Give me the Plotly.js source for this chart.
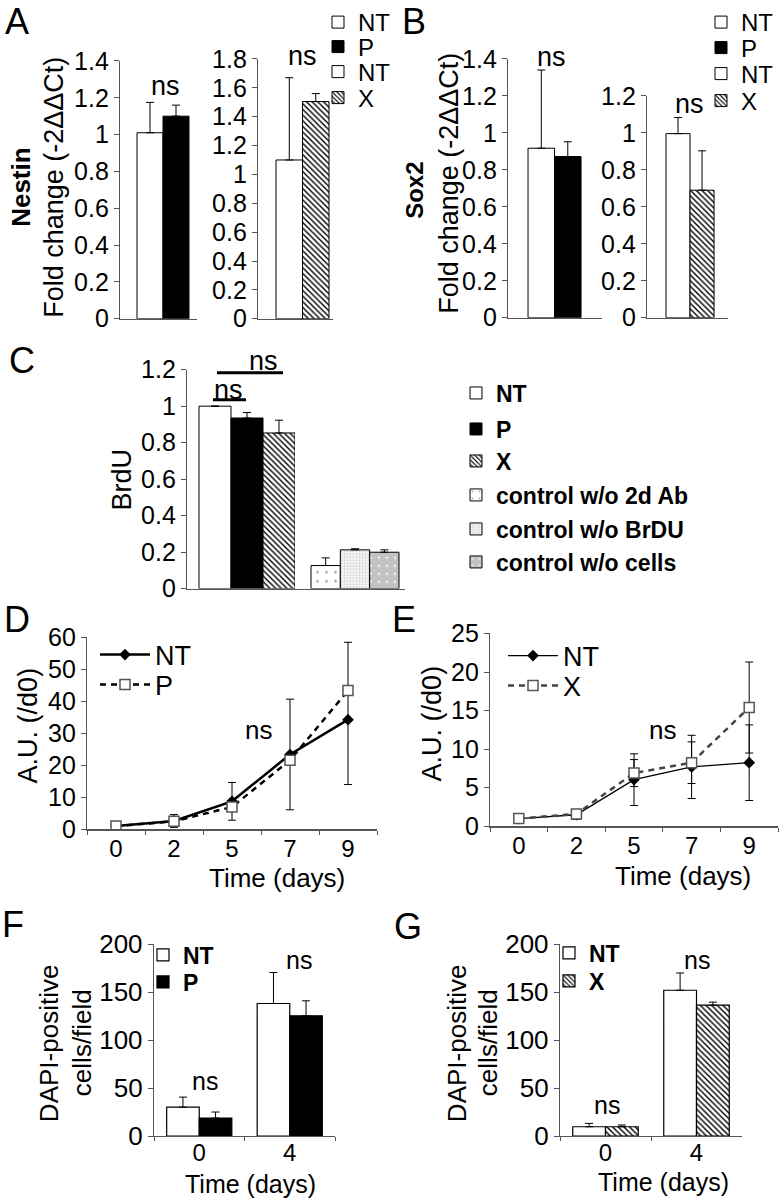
<!DOCTYPE html>
<html>
<head>
<meta charset="utf-8">
<script src="https://cdn.plot.ly/plotly-3.0.1.min.js"></script>
<style>
html,body{margin:0;padding:0;background:#fff;}
#chart{width:784px;height:1200px;}
</style>
</head>
<body>
<div id="chart"></div>
<script>
// ---------------- DATA ----------------
// Panel A (Nestin)
const nestinCatsP = ['NT', 'P'];
const nestinValsP = [1.01, 1.10];
const nestinErrP = [0.165, 0.06];
const nestinCatsX = ['NT', 'X'];
const nestinValsX = [1.10, 1.505];
const nestinErrX = [0.57, 0.055];
// Panel B (Sox2)
const sox2CatsP = ['NT', 'P'];
const sox2ValsP = [0.917, 0.872];
const sox2ErrP = [0.423, 0.08];
const sox2CatsX = ['NT', 'X'];
const sox2ValsX = [0.996, 0.69];
const sox2ErrX = [0.087, 0.213];
// Panel C (BrdU)
const brduCats = ['NT', 'P', 'X'];
const brduVals = [1.0, 0.935, 0.853];
const brduErr = [0, 0.03, 0.07];
const ctrlCats = ['control w/o 2d Ab', 'control w/o BrDU', 'control w/o cells'];
const ctrlVals = [0.126, 0.212, 0.199];
const ctrlErr = [0.042, 0.006, 0.013];
// Panel D / E (growth)
const days = ['0', '2', '5', '7', '9'];
const dNT = [1, 2.6, 8.75, 23.4, 34.3];
const dNTErrPlus = [0, 2, 5.9, 17.3, 24.2];
const dNTErrMinus = [0, 2, 5.9, 17.3, 20.3];
const dP = [1, 2.5, 7.0, 21.6, 43.4];
const eNT = [1.0, 1.5, 6.05, 7.7, 8.25];
const eNTErr = [0.6, 0.6, 3.35, 4.1, 4.9];
const eX = [1.0, 1.6, 6.9, 8.25, 15.4];
const eXErr = [0.4, 0.5, 1.75, 2.7, 5.9];
// Panel F / G (DAPI)
const dapiDays = ['0', '4'];
const fNT = [30.2, 138.2];
const fNTErr = [10.4, 32.3];
const fP = [18.75, 125.3];
const fPErr = [6.3, 15.7];
const gNT = [9.7, 152];
const gNTErr = [3.5, 18];
const gX = [9.7, 136.5];
const gXErr = [1.8, 3.1];

// ---------------- STYLE ----------------
const FONT = 'Liberation Sans, Arial, Helvetica, sans-serif';
const AX = '#555';
const W = 784, H = 1200;
const PX = v => v / W;
const PY = v => 1 - v / H;

const barStyle = {
  'NT': {color: '#ffffff'},
  'P': {color: '#000000'},
  'X': {color: '#ffffff', pattern: {shape: '\\', fgcolor: '#000', bgcolor: '#fff', size: 4, solidity: 0.35}},
  'control w/o 2d Ab': {color: '#ffffff', pattern: {shape: '.', fgcolor: '#9a9a9a', bgcolor: '#ffffff', size: 9, solidity: 0.06}},
  'control w/o BrDU': {color: '#eeeeee', pattern: {shape: '.', fgcolor: '#c8c8c8', bgcolor: '#f4f4f4', size: 3, solidity: 0.25}},
  'control w/o cells': {color: '#c4c4c4', pattern: {shape: '.', fgcolor: '#f2f2f2', bgcolor: '#c2c2c2', size: 8, solidity: 0.08}}
};

const layout = {
  width: W, height: H, margin: {l: 0, r: 0, t: 0, b: 0},
  paper_bgcolor: '#fff', plot_bgcolor: 'rgba(0,0,0,0)',
  barmode: 'overlay', bargap: 0, showlegend: true,
  font: {family: FONT, color: '#000'},
  annotations: [], shapes: []
};

// one small legend per entry, so each entry sits where the original put it
let legendCount = 0;
function newLegend(x, yc, fs, bold, extra) {
  legendCount += 1;
  const id = legendCount === 1 ? 'legend' : 'legend' + legendCount;
  layout[id] = Object.assign({x: PX(x), y: PY(yc), xanchor: 'left', yanchor: 'middle',
    bgcolor: 'rgba(0,0,0,0)', borderwidth: 0, tracegroupgap: 0,
    font: {family: FONT, size: fs, color: '#000', weight: bold ? 'bold' : 'normal'}}, extra || {});
  return id;
}

function errStyle(arr) {
  return {type: 'data', array: arr, arrayminus: arr.map(() => 0), symmetric: false,
          color: '#000', thickness: 1, width: 4};
}

function barTraces(cats, vals, errs, xa, ya, legX, legYs, fs, bold) {
  return cats.map((c, i) => {
    const st = barStyle[c];
    const marker = {color: st.color, line: {color: '#000', width: 1}};
    if (st.pattern) marker.pattern = st.pattern;
    return {
      type: 'bar', name: c, x: [c], y: [vals[i]],
      error_y: errStyle([errs[i]]),
      marker: marker, xaxis: xa, yaxis: ya, legend: newLegend(legX, legYs[i], fs, bold),
      showlegend: true, hoverinfo: 'skip'
    };
  });
}

function groupedBar(name, cats, vals, errs, xa, ya, offset, legX, legY) {
  const st = barStyle[name];
  const marker = {color: st.color, line: {color: '#000', width: 1.2}};
  if (st.pattern) marker.pattern = st.pattern;
  return {
    type: 'bar', name: name, x: cats, y: vals, width: 0.36, offset: offset,
    error_y: errStyle(errs), marker: marker, xaxis: xa, yaxis: ya,
    legend: newLegend(legX, legY, 23, true), hoverinfo: 'skip'
  };
}

const traces = [];
traces.push(...barTraces(nestinCatsP, nestinValsP, nestinErrP, 'x', 'y', 318, [22, 47], 24, false));
traces.push(...barTraces(nestinCatsX, nestinValsX, nestinErrX, 'x2', 'y2', 318, [72, 98], 24, false));
traces.push(...barTraces(sox2CatsP, sox2ValsP, sox2ErrP, 'x3', 'y3', 701, [22, 48], 24, false));
traces.push(...barTraces(sox2CatsX, sox2ValsX, sox2ErrX, 'x4', 'y4', 701, [74, 101], 24, false));
traces.push(...barTraces(brduCats, brduVals, brduErr, 'x5', 'y5', 456, [393, 429, 461], 23, true));
traces.push(...barTraces(ctrlCats, ctrlVals, ctrlErr, 'x6', 'y5', 456, [495, 529, 562], 23, true));

// Panel D
traces.push({
  type: 'scatter', mode: 'lines+markers', name: 'NT', x: days, y: dNT,
  line: {color: '#000', width: 2.5},
  marker: {symbol: 'diamond', size: 9, color: '#000'},
  error_y: {type: 'data', array: dNTErrPlus, arrayminus: dNTErrMinus, symmetric: false, color: '#000', thickness: 1, width: 4},
  xaxis: 'x7', yaxis: 'y7', legend: newLegend(95, 655, 27, false, {itemwidth: 50}), hoverinfo: 'skip'
});
traces.push({
  type: 'scatter', mode: 'lines+markers', name: 'P', x: days, y: dP,
  line: {color: '#000', width: 2.5, dash: '6px,5px'},
  marker: {symbol: 'square', size: 10, color: '#fff', line: {color: '#555', width: 1.5}},
  xaxis: 'x7', yaxis: 'y7', legend: newLegend(95, 685, 27, false, {itemwidth: 50}), hoverinfo: 'skip'
});
// Panel E
traces.push({
  type: 'scatter', mode: 'lines+markers', name: 'NT', x: days, y: eNT,
  line: {color: '#000', width: 1.3},
  marker: {symbol: 'diamond', size: 9, color: '#000'},
  error_y: {type: 'data', array: eNTErr, color: '#000', thickness: 1, width: 4},
  xaxis: 'x8', yaxis: 'y8', legend: newLegend(503, 656, 27, false, {itemwidth: 50}), hoverinfo: 'skip'
});
traces.push({
  type: 'scatter', mode: 'lines+markers', name: 'X', x: days, y: eX,
  line: {color: '#444', width: 2.5, dash: '6px,5px'},
  marker: {symbol: 'square', size: 10, color: '#fff', line: {color: '#555', width: 1.5}},
  error_y: {type: 'data', array: eXErr, color: '#000', thickness: 1, width: 4},
  xaxis: 'x8', yaxis: 'y8', legend: newLegend(503, 686, 27, false, {itemwidth: 50}), hoverinfo: 'skip'
});
// Panel F / G
traces.push(groupedBar('NT', dapiDays, fNT, fNTErr, 'x9', 'y9', -0.36, 143, 955));
traces.push(groupedBar('P', dapiDays, fP, fPErr, 'x9', 'y9', 0, 143, 982));
traces.push(groupedBar('NT', dapiDays, gNT, gNTErr, 'x10', 'y10', -0.36, 549, 953));
traces.push(groupedBar('X', dapiDays, gX, gXErr, 'x10', 'y10', 0, 549, 981));

// ---------------- AXES ----------------
function hiddenX(d0, d1, range, anchor) {
  return {domain: [PX(d0), PX(d1)], anchor: anchor, type: 'category', range: range,
          showline: true, linecolor: AX, linewidth: 1.2, showticklabels: false, ticks: '',
          showgrid: false, zeroline: false, fixedrange: true};
}
function yAx(b, t, range, dtick, anchor, fs) {
  return {domain: [PY(b), PY(t)], anchor: anchor, range: range, dtick: dtick,
          showline: true, linecolor: AX, linewidth: 1.2, ticks: 'outside', ticklen: 5,
          tickcolor: AX, showgrid: false, zeroline: false,
          tickfont: {family: FONT, size: fs, color: '#000'}};
}
function catX(d0, d1, range, anchor, fs, standoff) {
  return {domain: [PX(d0), PX(d1)], anchor: anchor, type: 'category', range: range,
          showline: true, linecolor: AX, linewidth: 1.2, ticks: 'outside', tickson: 'boundaries',
          ticklen: 4, tickcolor: AX, showgrid: false, zeroline: false, ticklabelstandoff: standoff,
          tickfont: {family: FONT, size: fs, color: '#000'}};
}

Object.assign(layout, {
  xaxis: hiddenX(120, 197, [-1.154, 1.808], 'y'),
  yaxis: yAx(318, 60, [0, 1.4], 0.2, 'x', 25),
  xaxis2: hiddenX(258, 333, [-1.18, 1.65], 'y2'),
  yaxis2: yAx(318, 58, [0, 1.8], 0.2, 'x2', 25),
  xaxis3: hiddenX(508, 602, [-1.255, 2.29], 'y3'),
  yaxis3: yAx(317, 58, [0, 1.4], 0.2, 'x3', 25),
  xaxis4: hiddenX(647, 728, [-1.29, 2.08], 'y4'),
  yaxis4: yAx(317, 95, [0, 1.2], 0.2, 'x4', 25),
  xaxis5: hiddenX(187, 295, [-0.875, 2.5], 'y5'),
  yaxis5: yAx(588, 369, [0, 1.2], 0.2, 'x5', 25),
  xaxis6: hiddenX(295, 405, [-1.046, 2.705], 'y5'),
  xaxis7: catX(87, 377, [-0.5, 4.5], 'y7', 24, -2),
  yaxis7: yAx(829, 637, [0, 60], 10, 'x7', 25),
  xaxis8: catX(490, 778, [-0.5, 4.5], 'y8', 24, -2),
  yaxis8: yAx(826, 633, [0, 25], 5, 'x8', 25),
  xaxis9: catX(154, 335, [-0.5, 1.5], 'y9', 24, -5),
  yaxis9: yAx(1136, 944, [0, 200], 50, 'x9', 26),
  xaxis10: catX(560, 742, [-0.5, 1.5], 'y10', 24, -5),
  yaxis10: yAx(1136, 944, [0, 200], 50, 'x10', 26)
});

function txt(text, x, y, size, opts) {
  layout.annotations.push(Object.assign({text: text, x: PX(x), y: PY(y), xref: 'paper', yref: 'paper',
    xanchor: 'center', yanchor: 'middle', showarrow: false,
    font: {family: FONT, size: size, color: '#000'}}, opts || {}));
}

// Panel letters
[['A', 17, 21], ['B', 414, 21], ['C', 22, 360], ['D', 17, 619], ['E', 404, 619], ['F', 13, 924], ['G', 408, 926]]
  .forEach(l => txt(l[0], l[1], l[2], 36));

// Axis titles
const rot = {textangle: -90};
txt('<b>Nestin</b>', 21, 187, 26, rot);
txt('<b>Sox2</b>', 415, 190, 24, rot);
txt('Fold change (-2ΔΔCt)', 54, 187, 27, rot);
txt('Fold change (-2ΔΔCt)', 449, 183, 27, rot);
txt('BrdU', 122, 479, 27, rot);
txt('A.U. (/d0)', 28, 725, 27, rot);
txt('A.U. (/d0)', 432, 723, 27, rot);
txt('Time (days)', 277, 878, 26);
txt('Time (days)', 683, 876, 26);
txt('DAPI-positive', 49, 1043, 26, rot);
txt('cells/field', 82, 1043, 26, rot);
txt('DAPI-positive', 457, 1043, 26, rot);
txt('cells/field', 488, 1043, 26, rot);
txt('Time (days)', 250, 1184, 25);
txt('Time (days)', 663, 1182, 25);

// "ns" labels
[[165, 85, 27], [302, 55, 27], [551, 56, 27], [689, 103, 27], [229, 389, 27], [263, 360, 27],
 [258, 730, 26], [662, 730, 26], [205, 1081, 25], [299, 960, 25], [607, 1105, 25], [697, 960, 25]]
  .forEach(n => txt('ns', n[0], n[1], n[2]));

// significance bars in C
layout.shapes.push({type: 'line', xref: 'paper', yref: 'paper', x0: PX(213), x1: PX(246), y0: PY(399), y1: PY(399), line: {color: '#000', width: 3}});
layout.shapes.push({type: 'line', xref: 'paper', yref: 'paper', x0: PX(217), x1: PX(283), y0: PY(372), y1: PY(372), line: {color: '#000', width: 3}});

Plotly.newPlot('chart', traces, layout, {staticPlot: true, displayModeBar: false});
</script>
</body>
</html>
